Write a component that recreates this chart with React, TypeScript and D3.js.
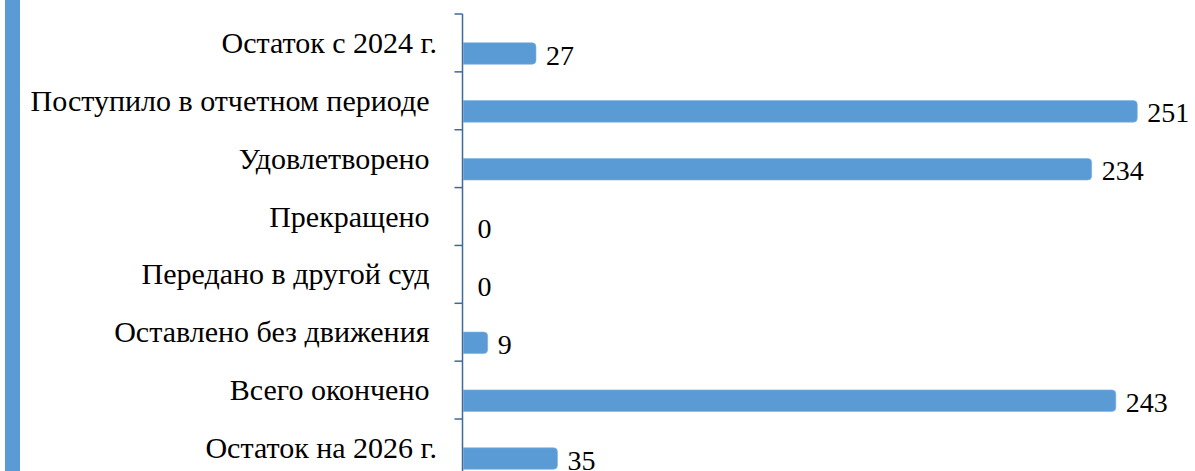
import React from "react";
import * as d3 from "d3";

const categories = [
  "Остаток с 2024 г.",
  "Поступило в отчетном периоде ",
  "Удовлетворено ",
  "Прекращено ",
  "Передано в другой суд ",
  "Оставлено без движения ",
  "Всего окончено ",
  "Остаток на 2026 г.",
];
const values = [27, 251, 234, 0, 0, 9, 243, 35];

const W = 1195;
const H = 471;
const FONT = "'Liberation Serif', 'Times New Roman', 'DejaVu Serif', serif";
const BAR = "#5b9bd5";
const AXIS = "#3d6a99";

export default function App() {
  const axisX = 462.5;
  const x = d3.scaleLinear().domain([0, 251]).range([463.5, 1137.3]);
  const y = d3
    .scaleBand<string>()
    .domain(categories)
    .range([14, 14 + 57.86 * categories.length])
    .paddingInner(0)
    .paddingOuter(0);
  const bw = y.bandwidth();
  const barOff = bw * 0.497;
  const barH = bw * 0.372;
  const r = 4;

  const barPath = (v: number, top: number) => {
    const x0 = x(0);
    const x1 = x(v);
    const w = x1 - x0;
    if (w <= 0) return "";
    const rr = Math.min(r, w, barH / 2);
    const p = d3.path();
    p.moveTo(x0, top);
    p.lineTo(x1 - rr, top);
    p.arcTo(x1, top, x1, top + rr, rr);
    p.lineTo(x1, top + barH - rr);
    p.arcTo(x1, top + barH, x1 - rr, top + barH, rr);
    p.lineTo(x0, top + barH);
    p.closePath();
    return p.toString();
  };

  const ticks = d3.range(categories.length + 1).map((i) => 14 + i * bw);

  return (
    <div style={{ position: "absolute", left: 0, top: 0 }}>
      <svg width={W} height={H} style={{ display: "block", fontFamily: FONT }}>
        <rect x={0} y={0} width={W} height={H} fill="#ffffff" />
        <rect x={5} y={0} width={15} height={H} fill={BAR} />
        {categories.map((c, i) => {
          const b = y(c)!;
          const top = b + barOff;
          return (
            <g key={c}>
              <text
                x={437}
                y={b + bw / 2 + 10}
                textAnchor="end"
                fontSize={30}
                fill="#000"
                style={{ whiteSpace: "pre" }}
              >
                {c}
              </text>
              <path d={barPath(values[i], top)} fill={BAR} stroke="#7fb0de" strokeWidth={0.6} />
              <text
                x={x(values[i]) + (values[i] === 0 ? 14 : 10)}
                y={top + barH / 2 + 11}
                fontSize={28}
                fill="#000"
              >
                {values[i]}
              </text>
            </g>
          );
        })}
        <line x1={axisX} x2={axisX} y1={14} y2={H} stroke={AXIS} strokeWidth={1.5} />
        {ticks.map((t, i) => (
          <line key={i} x1={454.5} x2={axisX} y1={t} y2={t} stroke={AXIS} strokeWidth={1.5} />
        ))}
      </svg>
    </div>
  );
}
